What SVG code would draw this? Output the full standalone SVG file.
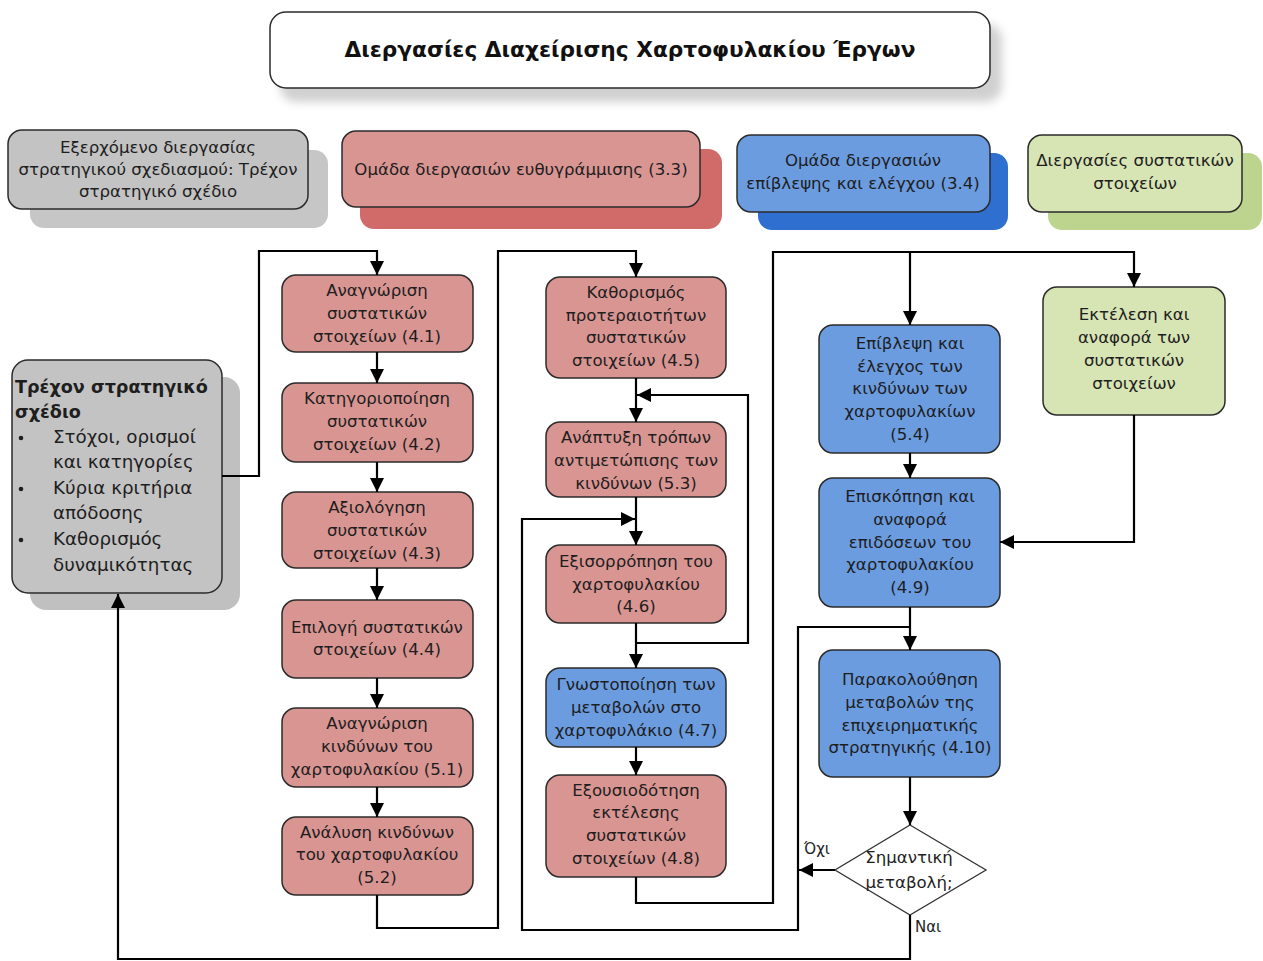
<svg xmlns="http://www.w3.org/2000/svg" width="1263" height="961" viewBox="0 0 1263 961">
  <style>
    .box { stroke: #2b2b2b; stroke-width: 1.5; }
    .red { fill: #d99592; }
    .blue { fill: #6b9ce0; }
    .green { fill: #d7e4b4; }
    .gray { fill: #c3c3c3; }
    .white { fill: #ffffff; }
    .t { font-family: "DejaVu Sans", "Liberation Sans", sans-serif; font-size: 16.6px; fill: #1e1e1e; text-anchor: middle; }
    .tl { font-family: "DejaVu Sans", "Liberation Sans", sans-serif; font-size: 18.3px; fill: #1e1e1e; }
    .b { font-weight: bold; font-size: 17.6px; }
    .title { font-family: "DejaVu Sans", "Liberation Sans", sans-serif; font-size: 21.7px; font-weight: bold; fill: #111; text-anchor: middle; }
    .wire { fill: none; stroke: #000; stroke-width: 2.2; }
    .lbl { font-family: "DejaVu Sans", "Liberation Sans", sans-serif; font-size: 15px; fill: #1e1e1e; }
  </style>
  <defs>
    <marker id="arrow" viewBox="0 0 14 14" refX="14" refY="7" markerWidth="14" markerHeight="14" markerUnits="userSpaceOnUse" orient="auto">
      <path d="M0,0 L14,7 L0,14 Z" fill="#000"/>
    </marker>
    <filter id="soft" x="-10%" y="-30%" width="120%" height="160%">
      <feGaussianBlur stdDeviation="5"/>
    </filter>
  </defs>

  <rect width="1263" height="961" fill="#ffffff"/>

  <!-- Title -->
  <g id="title">
    <rect x="280" y="24" width="722" height="78" rx="16" fill="#d0d0d0" filter="url(#soft)"/>
    <rect class="box white" x="270" y="12" width="720" height="76" rx="16"/>
    <text class="title" x="630" y="57">Διεργασίες Διαχείρισης Χαρτοφυλακίου Έργων</text>
  </g>

  <!-- Legend -->
  <g id="legend-output">
    <rect x="30" y="150" width="298" height="78" rx="14" fill="#c6c6c6"/>
    <rect class="box gray" x="8" y="130" width="300" height="79" rx="14"/>
    <text class="t" x="158" y="153">Εξερχόμενο διεργασίας</text>
    <text class="t" x="158" y="175">στρατηγικού σχεδιασμού: Τρέχον</text>
    <text class="t" x="158" y="197">στρατηγικό σχέδιο</text>
  </g>
  <g id="legend-alignment">
    <rect x="360" y="149" width="362" height="80" rx="14" fill="#d06b69"/>
    <rect class="box red" x="342" y="131" width="358" height="76" rx="14"/>
    <text class="t" x="521" y="175">Ομάδα διεργασιών ευθυγράμμισης (3.3)</text>
  </g>
  <g id="legend-monitoring">
    <rect x="758" y="153" width="250" height="77" rx="14" fill="#2f6fd0"/>
    <rect class="box blue" x="737" y="135" width="253" height="77" rx="14"/>
    <text class="t" x="863" y="166">Ομάδα διεργασιών</text>
    <text class="t" x="863" y="189">επίβλεψης και ελέγχου (3.4)</text>
  </g>
  <g id="legend-components">
    <rect x="1048" y="153" width="214" height="77" rx="14" fill="#bcd48e"/>
    <rect class="box green" x="1028" y="135" width="214" height="77" rx="14"/>
    <text class="t" x="1135" y="166">Διεργασίες συστατικών</text>
    <text class="t" x="1135" y="189">στοιχείων</text>
  </g>

  <!-- Current strategic plan -->
  <g id="strategic-plan">
    <rect x="30" y="377" width="210" height="233" rx="16" fill="#c0c0c0"/>
    <rect class="box gray" x="12" y="360" width="210" height="233" rx="16"/>
    <text class="tl b" x="15" y="393">Τρέχον στρατηγικό</text>
    <text class="tl b" x="15" y="418">σχέδιο</text>
    <circle cx="21" cy="438" r="2.3" fill="#1e1e1e"/>
    <text class="tl" x="53" y="443">Στόχοι, ορισμοί</text>
    <text class="tl" x="53" y="468">και κατηγορίες</text>
    <circle cx="21" cy="489" r="2.3" fill="#1e1e1e"/>
    <text class="tl" x="53" y="494">Κύρια κριτήρια</text>
    <text class="tl" x="53" y="519">απόδοσης</text>
    <circle cx="21" cy="540" r="2.3" fill="#1e1e1e"/>
    <text class="tl" x="53" y="545">Καθορισμός</text>
    <text class="tl" x="53" y="571">δυναμικότητας</text>
  </g>

  <!-- Column 1 -->
  <g id="n41">
    <rect class="box red" x="282" y="275" width="191" height="77" rx="14"/>
    <text class="t" x="377" y="296">Αναγνώριση</text>
    <text class="t" x="377" y="319">συστατικών</text>
    <text class="t" x="377" y="342">στοιχείων (4.1)</text>
  </g>
  <g id="n42">
    <rect class="box red" x="282" y="383" width="191" height="79" rx="14"/>
    <text class="t" x="377" y="404">Κατηγοριοποίηση</text>
    <text class="t" x="377" y="427">συστατικών</text>
    <text class="t" x="377" y="450">στοιχείων (4.2)</text>
  </g>
  <g id="n43">
    <rect class="box red" x="282" y="492" width="191" height="76" rx="14"/>
    <text class="t" x="377" y="513">Αξιολόγηση</text>
    <text class="t" x="377" y="536">συστατικών</text>
    <text class="t" x="377" y="559">στοιχείων (4.3)</text>
  </g>
  <g id="n44">
    <rect class="box red" x="282" y="600" width="191" height="78" rx="14"/>
    <text class="t" x="377" y="633">Επιλογή συστατικών</text>
    <text class="t" x="377" y="655">στοιχείων (4.4)</text>
  </g>
  <g id="n51">
    <rect class="box red" x="282" y="708" width="191" height="79" rx="14"/>
    <text class="t" x="377" y="729">Αναγνώριση</text>
    <text class="t" x="377" y="752">κινδύνων του</text>
    <text class="t" x="377" y="775">χαρτοφυλακίου (5.1)</text>
  </g>
  <g id="n52">
    <rect class="box red" x="282" y="817" width="191" height="78" rx="14"/>
    <text class="t" x="377" y="838">Ανάλυση κινδύνων</text>
    <text class="t" x="377" y="860">του χαρτοφυλακίου</text>
    <text class="t" x="377" y="883">(5.2)</text>
  </g>

  <!-- Column 2 -->
  <g id="n45">
    <rect class="box red" x="546" y="277" width="180" height="101" rx="14"/>
    <text class="t" x="636" y="298">Καθορισμός</text>
    <text class="t" x="636" y="321">προτεραιοτήτων</text>
    <text class="t" x="636" y="343">συστατικών</text>
    <text class="t" x="636" y="366">στοιχείων (4.5)</text>
  </g>
  <g id="n53">
    <rect class="box red" x="546" y="422" width="180" height="75" rx="14"/>
    <text class="t" x="636" y="443">Ανάπτυξη τρόπων</text>
    <text class="t" x="636" y="466">αντιμετώπισης των</text>
    <text class="t" x="636" y="489">κινδύνων (5.3)</text>
  </g>
  <g id="n46">
    <rect class="box red" x="546" y="545" width="180" height="78" rx="14"/>
    <text class="t" x="636" y="567">Εξισορρόπηση του</text>
    <text class="t" x="636" y="590">χαρτοφυλακίου</text>
    <text class="t" x="636" y="612">(4.6)</text>
  </g>
  <g id="n47">
    <rect class="box blue" x="546" y="668" width="180" height="79" rx="14"/>
    <text class="t" x="636" y="690">Γνωστοποίηση των</text>
    <text class="t" x="636" y="713">μεταβολών στο</text>
    <text class="t" x="636" y="736">χαρτοφυλάκιο (4.7)</text>
  </g>
  <g id="n48">
    <rect class="box red" x="546" y="775" width="180" height="102" rx="14"/>
    <text class="t" x="636" y="796">Εξουσιοδότηση</text>
    <text class="t" x="636" y="818">εκτέλεσης</text>
    <text class="t" x="636" y="841">συστατικών</text>
    <text class="t" x="636" y="864">στοιχείων (4.8)</text>
  </g>

  <!-- Column 3 -->
  <g id="n54">
    <rect class="box blue" x="819" y="325" width="181" height="128" rx="14"/>
    <text class="t" x="910" y="349">Επίβλεψη και</text>
    <text class="t" x="910" y="372">έλεγχος των</text>
    <text class="t" x="910" y="394">κινδύνων των</text>
    <text class="t" x="910" y="417">χαρτοφυλακίων</text>
    <text class="t" x="910" y="440">(5.4)</text>
  </g>
  <g id="n49">
    <rect class="box blue" x="819" y="478" width="181" height="129" rx="14"/>
    <text class="t" x="910" y="502">Επισκόπηση και</text>
    <text class="t" x="910" y="525">αναφορά</text>
    <text class="t" x="910" y="548">επιδόσεων του</text>
    <text class="t" x="910" y="570">χαρτοφυλακίου</text>
    <text class="t" x="910" y="593">(4.9)</text>
  </g>
  <g id="n410">
    <rect class="box blue" x="819" y="650" width="181" height="127" rx="14"/>
    <text class="t" x="910" y="685">Παρακολούθηση</text>
    <text class="t" x="910" y="708">μεταβολών της</text>
    <text class="t" x="910" y="731">επιχειρηματικής</text>
    <text class="t" x="910" y="753">στρατηγικής (4.10)</text>
  </g>
  <g id="decision">
    <polygon points="910,825 986,870 910,915 835,870" fill="#ffffff" stroke="#333" stroke-width="1.3"/>
    <text class="t" x="909" y="863">Σημαντική</text>
    <text class="t" x="909" y="888">μεταβολή;</text>
  </g>

  <!-- Component execution -->
  <g id="execution">
    <rect class="box green" x="1043" y="287" width="182" height="128" rx="14"/>
    <text class="t" x="1134" y="320">Εκτέλεση και</text>
    <text class="t" x="1134" y="343">αναφορά των</text>
    <text class="t" x="1134" y="366">συστατικών</text>
    <text class="t" x="1134" y="389">στοιχείων</text>
  </g>

  <!-- Connectors -->
  <g id="connectors">
    <path class="wire" d="M222,476 H259 V251 H377 V275" marker-end="url(#arrow)"/>
    <path class="wire" d="M377,352 V383" marker-end="url(#arrow)"/>
    <path class="wire" d="M377,462 V492" marker-end="url(#arrow)"/>
    <path class="wire" d="M377,568 V600" marker-end="url(#arrow)"/>
    <path class="wire" d="M377,678 V708" marker-end="url(#arrow)"/>
    <path class="wire" d="M377,787 V817" marker-end="url(#arrow)"/>
    <path class="wire" d="M377,895 V928 H498 V251 H636 V277" marker-end="url(#arrow)"/>
    <path class="wire" d="M636,378 V422" marker-end="url(#arrow)"/>
    <path class="wire" d="M636,643 H748 V395 H637" marker-end="url(#arrow)"/>
    <path class="wire" d="M636,497 V545" marker-end="url(#arrow)"/>
    <path class="wire" d="M636,623 V668" marker-end="url(#arrow)"/>
    <path class="wire" d="M636,747 V775" marker-end="url(#arrow)"/>
    <path class="wire" d="M636,877 V903 H773 V252 H1134 V287" marker-end="url(#arrow)"/>
    <path class="wire" d="M910,252 V325" marker-end="url(#arrow)"/>
    <path class="wire" d="M910,453 V478" marker-end="url(#arrow)"/>
    <path class="wire" d="M1134,415 V542 H1000" marker-end="url(#arrow)"/>
    <path class="wire" d="M910,607 V650" marker-end="url(#arrow)"/>
    <path class="wire" d="M910,627 H798 V930 H522 V519 H635" marker-end="url(#arrow)"/>
    <path class="wire" d="M910,777 V825" marker-end="url(#arrow)"/>
    <path class="wire" d="M835,870 H799" marker-end="url(#arrow)"/>
    <path class="wire" d="M910,915 V959 H118 V594" marker-end="url(#arrow)"/>
    <text class="lbl" x="804" y="854">Όχι</text>
    <text class="lbl" x="915" y="932">Ναι</text>
  </g>
</svg>
